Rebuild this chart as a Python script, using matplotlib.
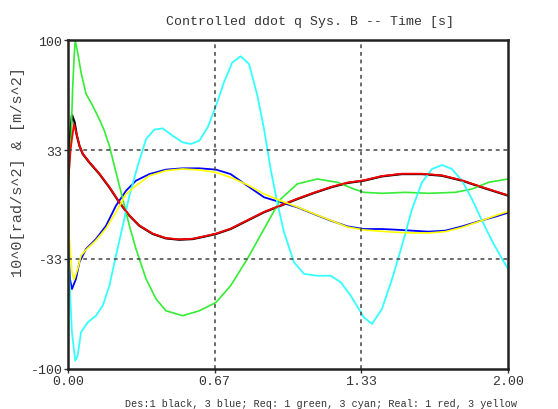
import matplotlib
matplotlib.use("Agg")
import matplotlib.pyplot as plt

# Desired accelerations: joint 1 (black), joint 3 (blue)
t_des1 = [0.0, 0.009, 0.018, 0.030, 0.040, 0.052, 0.067, 0.097, 0.143, 0.188, 0.233, 0.279,
          0.324, 0.385, 0.445, 0.506, 0.567, 0.627, 0.673, 0.739, 0.815, 0.891, 0.967,
          1.042, 1.118, 1.194, 1.270, 1.345, 1.427, 1.518, 1.609, 1.700, 1.791, 1.882, 2.0]
q_des1 = [30.0, 42.0, 54.4, 50.0, 42.0, 35.7, 30.7, 25.6, 18.5, 10.4, 1.3, -6.8,
          -12.9, -17.9, -20.6, -21.4, -21.0, -19.3, -17.9, -14.9, -9.8, -4.7, -0.7,
          3.3, 7.0, 10.4, 13.1, 14.5, 17.1, 18.5, 18.5, 17.5, 14.5, 10.4, 5.4]

t_des3 = [0.0, 0.003, 0.009, 0.018, 0.036, 0.052, 0.082, 0.127, 0.173, 0.218, 0.264, 0.309,
          0.370, 0.445, 0.521, 0.597, 0.673, 0.739, 0.815, 0.891, 0.967, 1.042, 1.118,
          1.194, 1.270, 1.345, 1.427, 1.488, 1.564, 1.639, 1.715, 1.791, 1.867, 1.942, 2.0]
q_des3 = [-22.0, -30.0, -45.3, -51.4, -45.3, -35.1, -27.0, -21.0, -12.9, -0.7, 8.4, 14.5,
          18.5, 21.2, 22.0, 22.0, 21.2, 18.5, 11.4, 4.4, 1.3, -1.7, -5.8,
          -9.8, -13.3, -14.9, -14.9, -15.3, -15.9, -16.5, -15.9, -13.3, -10.2, -7.4, -5.0]

# Required accelerations from the controller: joint 1 (green), joint 3 (cyan)
t_req1 = [0.0, 0.003, 0.014, 0.021, 0.029, 0.033, 0.044, 0.059, 0.082, 0.112, 0.142, 0.165,
          0.188, 0.218, 0.249, 0.279, 0.309, 0.355, 0.400, 0.445, 0.521, 0.597, 0.673,
          0.739, 0.815, 0.891, 0.967, 1.042, 1.133, 1.224, 1.300, 1.345, 1.427, 1.533,
          1.639, 1.760, 1.836, 1.912, 2.0]
q_req1 = [5.0, 15.5, 39.8, 70.2, 92.5, 99.6, 92.5, 80.4, 67.2, 60.1, 52.0, 44.9,
          35.7, 19.6, 3.3, -12.9, -27.0, -45.3, -57.4, -64.6, -67.6, -64.6, -59.5,
          -49.4, -33.1, -14.9, 3.3, 12.5, 15.5, 13.5, 9.4, 7.4, 6.8, 7.4,
          6.8, 7.4, 9.4, 13.5, 15.5]

t_req3 = [0.0, 0.006, 0.018, 0.033, 0.044, 0.059, 0.090, 0.127, 0.158, 0.188, 0.218, 0.249,
          0.279, 0.317, 0.355, 0.392, 0.430, 0.476, 0.521, 0.559, 0.597, 0.635, 0.673,
          0.709, 0.747, 0.785, 0.823, 0.861, 0.891, 0.921, 0.951, 0.982, 1.027, 1.073,
          1.133, 1.194, 1.240, 1.285, 1.345, 1.382, 1.427, 1.473, 1.518, 1.564, 1.609,
          1.655, 1.700, 1.745, 1.791, 1.836, 1.882, 1.927, 1.973, 2.0]
q_req3 = [-20.0, -45.0, -77.7, -95.0, -91.9, -77.7, -71.6, -67.6, -61.5, -49.4, -31.1, -12.9,
          5.3, 23.6, 39.8, 45.5, 46.3, 41.8, 37.8, 36.8, 38.8, 46.9, 60.1,
          74.3, 86.4, 90.1, 85.4, 66.1, 45.9, 21.6, 1.3, -16.9, -35.1, -42.2,
          -43.3, -43.3, -47.3, -55.4, -68.6, -72.6, -63.5, -45.3, -25.0, -2.7, 13.5,
          21.6, 24.0, 21.6, 14.5, 3.3, -9.8, -22.0, -33.1, -39.0]

# Measured accelerations: joint 1 (red), joint 3 (yellow)
t_real1 = [0.0, 0.003, 0.012, 0.027, 0.039, 0.052, 0.067, 0.097, 0.143, 0.188, 0.233, 0.279,
           0.324, 0.385, 0.445, 0.506, 0.567, 0.627, 0.673, 0.739, 0.815, 0.891, 0.967,
           1.042, 1.118, 1.194, 1.270, 1.345, 1.427, 1.518, 1.609, 1.700, 1.791, 1.882, 2.0]
q_real1 = [10.0, 17.5, 33.7, 48.9, 42.9, 35.7, 30.9, 25.8, 18.7, 10.6, 1.5, -6.6,
           -12.7, -17.7, -20.4, -21.2, -20.8, -19.1, -17.7, -14.7, -9.6, -4.5, -0.5,
           3.5, 7.2, 10.6, 13.3, 14.7, 17.3, 18.7, 18.7, 17.7, 14.7, 10.6, 5.6]

t_real3 = [0.0, 0.003, 0.006, 0.018, 0.027, 0.044, 0.059, 0.082, 0.127, 0.173, 0.218, 0.264,
           0.309, 0.370, 0.445, 0.521, 0.597, 0.673, 0.739, 0.815, 0.891, 0.967, 1.042,
           1.118, 1.194, 1.270, 1.345, 1.427, 1.488, 1.564, 1.639, 1.715, 1.791, 1.867,
           1.942, 2.0]
q_real3 = [5.0, -0.7, -21.0, -41.2, -45.7, -39.2, -31.1, -27.5, -21.8, -14.5, -4.7, 6.4,
           11.4, 17.5, 20.6, 21.6, 21.0, 19.5, 16.5, 12.0, 6.4, 2.3, -1.5,
           -5.6, -9.6, -13.7, -15.5, -16.3, -16.9, -17.3, -17.3, -16.5, -13.9, -10.4,
           -6.8, -4.2]

xticks = [0.0, 2 / 3, 4 / 3, 2.0]
xtick_labels = ["0.00", "0.67", "1.33", "2.00"]
yticks = [-100, -33, 33, 100]
ytick_labels = ["-100", "-33", "33", "100"]

mono = "Liberation Mono"
txt = "#333333"

fig = plt.figure(figsize=(5.58, 4.10), dpi=100)
ax = fig.add_axes([68 / 558, 1 - 370 / 410, 440 / 558, 329 / 410])

ax.plot(t_des1, q_des1, color="black", lw=1.6)
ax.plot(t_des3, q_des3, color="#0000ff", lw=1.3)
ax.plot(t_req1, q_req1, color="#33ee33", lw=1.2)
ax.plot(t_req3, q_req3, color="#33ffff", lw=1.3)
ax.plot(t_real1, q_real1, color="#ff0000", lw=1.3)
ax.plot(t_real3, q_real3, color="#ffff00", lw=1.2)

ax.set_xlim(0, 2)
ax.set_ylim(-100, 100)
ax.set_xticks(xticks)
ax.set_xticklabels(xtick_labels, fontfamily=mono, fontsize=9.5, color=txt)
ax.set_yticks(yticks)
ax.set_yticklabels(ytick_labels, fontfamily=mono, fontsize=9.5, color=txt)
ax.tick_params(direction="out", length=3, width=1, color="#333333", pad=1)

# dashed interior grid
for x in xticks[1:-1]:
    ax.axvline(x, color="#444444", lw=1.1, ls=(0, (2.5, 2.5)))
for y in yticks[1:-1]:
    ax.axhline(y, color="#444444", lw=1.1, ls=(0, (2.5, 2.5)))

for s in ax.spines.values():
    s.set_linewidth(1.8)
    s.set_color("#222222")

fig.text(18 / 558, 1 - 172 / 410, "10^0[rad/s^2] & [m/s^2]", rotation=90,
         fontfamily=mono, fontsize=11, color="#444444", ha="center", va="center")
fig.text(310 / 558, 1 - 22 / 410, "Controlled ddot q Sys. B -- Time [s]",
         fontfamily=mono, fontsize=9.5, color=txt, ha="center", va="center")
fig.text(321 / 558, 1 - 404 / 410,
         "Des:1 black, 3 blue; Req: 1 green, 3 cyan; Real: 1 red, 3 yellow",
         fontfamily=mono, fontsize=7.3, color=txt, ha="center", va="center")

fig.savefig("out.png", dpi=100)
